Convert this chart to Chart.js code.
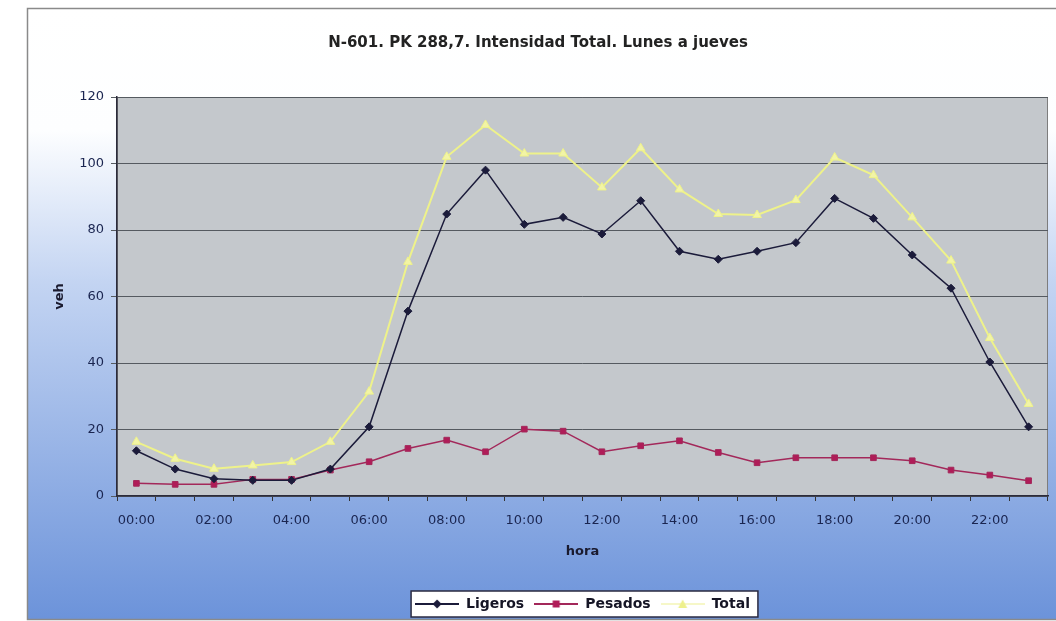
<!DOCTYPE html>
<html>
<head>
<meta charset="utf-8">
<script src="https://cdn.jsdelivr.net/npm/chart.js@4.4.1/dist/chart.umd.min.js"></script>
<style>
  html, body { margin: 0; padding: 0; background: #fff; }
  #wrap { width: 1056px; height: 621px; }
</style>
</head>
<body>
<div id="wrap"><canvas id="trafico"></canvas></div>
<script>
// --- data ---
const horas = ['00:00','01:00','02:00','03:00','04:00','05:00','06:00','07:00','08:00','09:00','10:00','11:00',
               '12:00','13:00','14:00','15:00','16:00','17:00','18:00','19:00','20:00','21:00','22:00','23:00'];
const ligeros = [13.6, 8.1, 5.2, 4.7, 4.7, 8.1, 20.8, 55.6, 84.8, 98, 81.7, 83.8,
                 78.8, 88.8, 73.6, 71.2, 73.6, 76.2, 89.5, 83.5, 72.5, 62.5, 40.3, 20.8];
const pesados = [3.8, 3.5, 3.5, 5, 5, 7.8, 10.3, 14.3, 16.8, 13.3, 20.1, 19.5,
                 13.3, 15.1, 16.6, 13.1, 10, 11.5, 11.5, 11.5, 10.6, 7.8, 6.3, 4.6];
const total = [16.3, 11.2, 8.2, 9.2, 10.2, 16.3, 31.4, 70.4, 102, 111.6, 103, 103,
               92.8, 104.6, 92.2, 84.8, 84.5, 89, 101.8, 96.5, 83.8, 70.8, 47.5, 27.7];
const yMin = 0, yMax = 120, yStep = 20;

const tickColor = '#1a2550';
Chart.defaults.font.family = "'DejaVu Sans', Verdana, sans-serif";

// little legend icons: line with the marker in the middle
function legendIcon(lineColor, markColor, shape) {
    const c = document.createElement('canvas');
    c.width = 44; c.height = 12;
    const g = c.getContext('2d');
    g.strokeStyle = lineColor;
    g.lineWidth = 2;
    g.beginPath(); g.moveTo(0, 6); g.lineTo(44, 6); g.stroke();
    g.fillStyle = markColor;
    g.beginPath();
    if (shape === 'diamond') {
        g.moveTo(22, 1.5); g.lineTo(26.5, 6); g.lineTo(22, 10.5); g.lineTo(17.5, 6);
    } else if (shape === 'square') {
        g.rect(18.5, 2.5, 7, 7);
    } else {
        g.moveTo(22, 1.5); g.lineTo(26.5, 10); g.lineTo(17.5, 10);
    }
    g.closePath(); g.fill();
    return c;
}
const icons = [
    legendIcon('#1b1b3a', '#1b1b3a', 'diamond'),
    legendIcon('#a3285a', '#b01c58', 'square'),
    legendIcon('#f6f7c8', '#eef08c', 'triangle')
];

// frame gradient, grey plot area and the white legend box
const fondo = {
    id: 'fondo',
    beforeDraw(chart) {
        const {ctx, chartArea: a, legend} = chart;
        ctx.save();
        const grad = ctx.createLinearGradient(0, 8, 0, 619);
        grad.addColorStop(0, '#ffffff');
        grad.addColorStop(0.2, '#fdfeff');
        grad.addColorStop(0.45, '#c3d4f2');
        grad.addColorStop(1, '#6c93da');
        ctx.fillStyle = grad;
        ctx.fillRect(27, 8, 1040, 611);
        ctx.strokeStyle = '#8a8a8a';
        ctx.lineWidth = 1.5;
        ctx.beginPath();
        ctx.moveTo(1056, 8.5); ctx.lineTo(27.5, 8.5); ctx.lineTo(27.5, 619.5); ctx.lineTo(1056, 619.5);
        ctx.stroke();

        ctx.fillStyle = '#c4c8cc';
        ctx.fillRect(a.left, a.top, a.right - a.left, a.bottom - a.top);
        ctx.strokeStyle = '#7d7d7d';
        ctx.lineWidth = 1;
        ctx.strokeRect(a.left + 0.5, a.top + 0.5, a.right - a.left - 1, a.bottom - a.top);

        const hb = legend.legendHitBoxes;
        if (hb && hb.length) {
            const l = Math.min(...hb.map(h => h.left)) - 4;
            const r = Math.max(...hb.map(h => h.left + h.width)) + 8;
            const t = hb[0].top - 6;
            const b = hb[0].top + hb[0].height + 6;
            ctx.fillStyle = '#ffffff';
            ctx.fillRect(l, t, r - l, b - t);
            ctx.strokeStyle = '#2a2a40';
            ctx.lineWidth = 1.5;
            ctx.strokeRect(l, t, r - l, b - t);
        }
        ctx.restore();
    }
};

new Chart(document.getElementById('trafico'), {
    type: 'line',
    data: {
        labels: horas,
        datasets: [
            {
                label: 'Ligeros',
                data: ligeros,
                borderColor: '#1b1b3a',
                backgroundColor: '#1b1b3a',
                borderWidth: 1.5,
                pointStyle: 'rectRot',
                pointRadius: 4,
                pointBorderWidth: 1
            },
            {
                label: 'Pesados',
                data: pesados,
                borderColor: '#a3285a',
                backgroundColor: '#b01c58',
                borderWidth: 1.5,
                pointStyle: 'rect',
                pointRadius: 4,
                pointBorderWidth: 1
            },
            {
                label: 'Total',
                data: total,
                borderColor: '#eef28a',
                backgroundColor: '#f2f4a6',
                borderWidth: 2,
                pointStyle: 'triangle',
                pointRadius: 5,
                pointBorderWidth: 1
            }
        ]
    },
    options: {
        responsive: true,
        maintainAspectRatio: false,
        animation: false,
        events: [],
        layout: { padding: { top: 8, left: 28, right: 8, bottom: 0 } },
        elements: { line: { tension: 0 } },
        scales: {
            x: {
                offset: true,
                grid: { display: true, drawOnChartArea: false, drawTicks: true, tickLength: 5, offset: true, color: '#333' },
                border: { display: true, color: '#2b2b3b', width: 1.5 },
                ticks: {
                    autoSkip: false,
                    maxRotation: 0,
                    padding: 12,
                    color: tickColor,
                    font: { size: 13 },
                    callback: (v, i) => (i % 2 === 0 ? horas[i] : '')
                },
                title: { display: true, text: 'hora', color: '#1a1a2e', font: { size: 13, weight: 'bold' }, padding: { top: 0, bottom: 28 } },
                afterFit: s => { s.height = 91; }
            },
            y: {
                min: yMin,
                max: yMax,
                grid: { color: '#555a60', lineWidth: 1, tickLength: 6 },
                border: { display: true, color: '#2b2b3b', width: 1.5 },
                ticks: { stepSize: yStep, padding: 7, color: tickColor, font: { size: 13 } },
                title: { display: true, text: 'veh', color: '#1a1a2e', font: { size: 13, weight: 'bold' }, padding: { top: 24, bottom: 0 } },
                afterFit: s => { s.width = 89; }
            }
        },
        plugins: {
            title: {
                display: true,
                text: 'N-601. PK 288,7. Intensidad Total. Lunes a jueves',
                color: '#222',
                font: { size: 15, weight: 'bold' },
                padding: { top: 26, bottom: 45 }
            },
            legend: {
                position: 'bottom',
                fullSize: false,
                labels: {
                    usePointStyle: true,
                    pointStyleWidth: 44,
                    padding: 10,
                    color: '#151525',
                    font: { size: 14, weight: 'bold' },
                    generateLabels: chart => Chart.defaults.plugins.legend.labels.generateLabels(chart)
                        .map((it, i) => ({ ...it, pointStyle: icons[i] }))
                }
            },
            tooltip: { enabled: false }
        }
    },
    plugins: [fondo]
});
</script>
</body>
</html>
